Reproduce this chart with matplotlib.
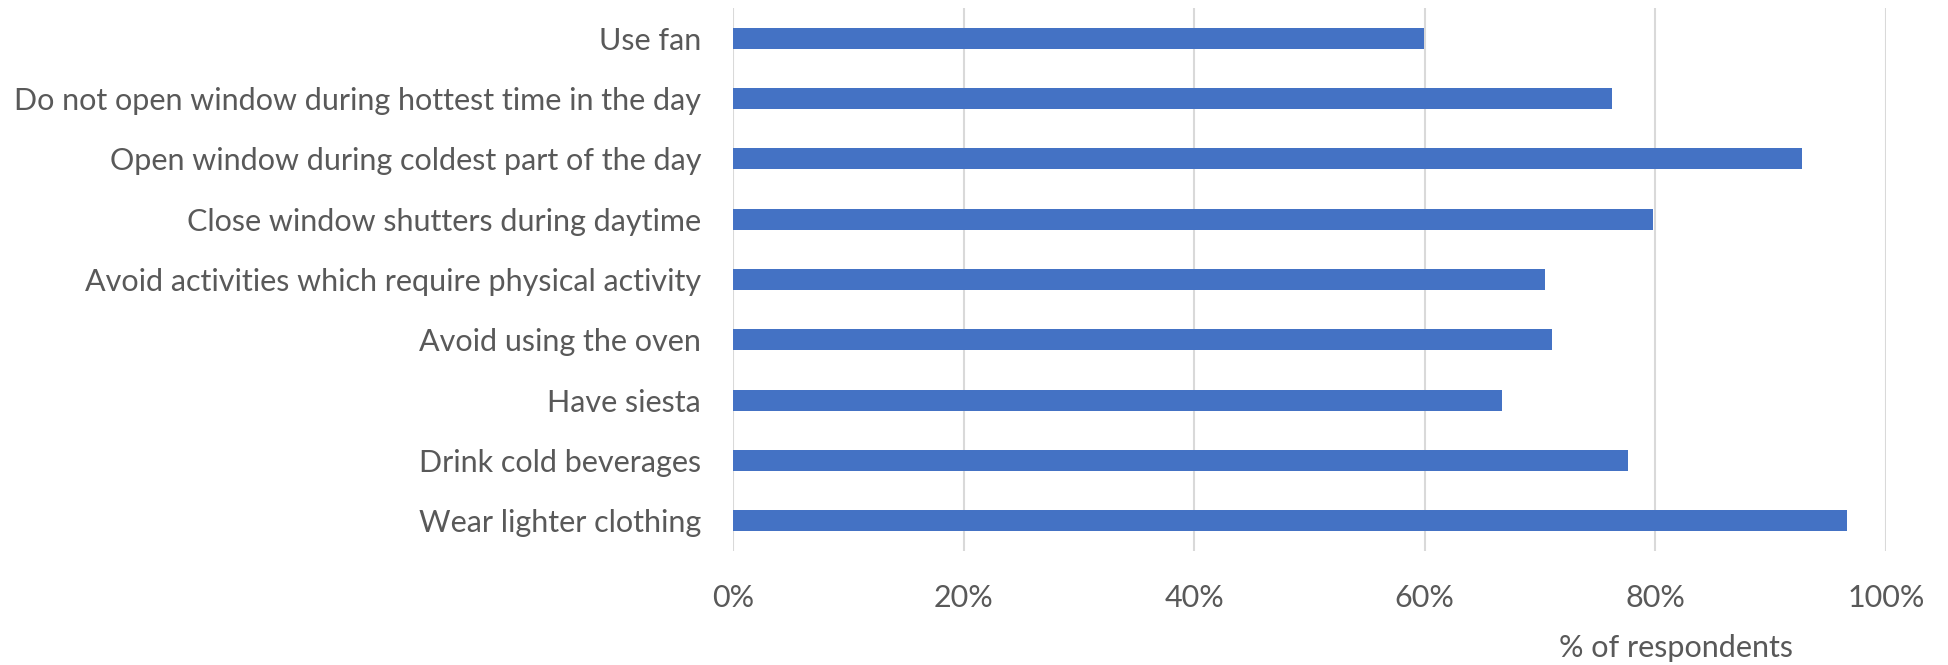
import matplotlib
matplotlib.use('Agg')
import matplotlib.pyplot as plt
import numpy as np
from matplotlib.ticker import FuncFormatter

# data (top to bottom)
categories = ['Use fan',
              'Do not open window during hottest time in the day',
              'Open window during coldest part of the day',
              'Close window shutters during daytime',
              'Avoid activities which require physical activity',
              'Avoid using the oven',
              'Have siesta',
              'Drink cold beverages',
              'Wear lighter clothing']
values = [59.9, 76.2, 92.7, 79.8, 70.4, 71.0, 66.7, 77.6, 96.6]
xticks = [0, 20, 40, 60, 80, 100]

plt.rcParams['font.family'] = ['Lato', 'DejaVu Sans']
txt = '#595959'

fig = plt.figure(figsize=(19.48, 6.65), dpi=100)
ax = fig.add_axes([733/1948, 1-551/665, (1886-733)/1948, (551-8)/665])

y = np.arange(len(categories))[::-1]
ax.barh(y, values, height=0.35, color='#4472C4', zorder=3)

ax.set_xlim(0, 100)
ax.set_ylim(-0.5, len(categories)-0.5)
ax.set_xticks(xticks)
ax.xaxis.set_major_formatter(FuncFormatter(lambda v, p: '%d%%' % v))
ax.set_yticks(y)
ax.set_yticklabels(categories)

ax.grid(axis='x', color='#d9d9d9', linewidth=1.5, zorder=0)
for s in ax.spines.values():
    s.set_visible(False)
ax.tick_params(axis='y', length=0, pad=23, labelsize=22, labelcolor=txt)
ax.tick_params(axis='x', length=0, pad=24, labelsize=22, labelcolor=txt)

fig.text(1793/1948, 1-648/665, '% of respondents', ha='right', va='center',
         fontsize=22, color=txt)

plt.savefig('out.png', dpi=100)
